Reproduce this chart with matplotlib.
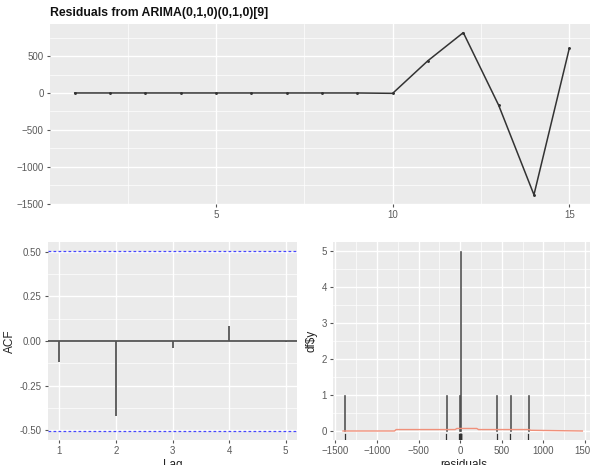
import matplotlib
matplotlib.use('Agg')
import matplotlib.pyplot as plt
from matplotlib.ticker import FixedLocator

plt.rcParams['font.family'] = ['Liberation Sans', 'DejaVu Sans']

# ---- data ----
time_index = list(range(1, 16))
residuals = [0, 0, 0, 0, 0, 0, 0, 0, 0, -5, 438, 818, -165, -1380, 603]

acf_lags = [1, 2, 3, 4, 5]
acf_values = [-0.116, -0.419, -0.04, 0.085, -0.004]
acf_bound = 0.506

hist_centers = [-1390, -165, -8, 0, 440, 605, 820]
hist_counts = [1, 1, 1, 5, 1, 1, 1]

normal_x = [-1410, -790, -770, -60, -40, 200, 220, 830, 850, 1470]
normal_y = [0.0, 0.0, 0.04, 0.04, 0.07, 0.07, 0.04, 0.04, 0.02, 0.0]

rug_values = [-12, -8, -4, 0, 2, 4, 6, 8, 10, -5, 438, 818, -165, -1380, 603]

title = "Residuals from ARIMA(0,1,0)(0,1,0)[9]"

W, H = 590, 465
fig = plt.figure(figsize=(W / 100, H / 100), dpi=100)
fig.patch.set_facecolor('white')


def add_ax(l, t, r, b):
    return fig.add_axes([l / W, 1 - b / H, (r - l) / W, (b - t) / H])


def gg_style(ax):
    ax.set_facecolor('#EBEBEB')
    for s in ax.spines.values():
        s.set_visible(False)
    ax.grid(True, which='major', color='white', linewidth=1.0)
    ax.grid(True, which='minor', color='white', linewidth=0.5)
    ax.set_axisbelow(True)
    ax.tick_params(which='major', length=2.5, width=0.8, color='#555555',
                   labelcolor='#5a5a5a', labelsize=7, pad=2)
    ax.tick_params(which='minor', length=0)


# ---- top panel ----
ax1 = add_ax(50, 24, 594, 204)
gg_style(ax1)
ax1.plot(time_index, residuals, color='#333333', linewidth=1.1,
         marker='o', markersize=1.1)
ax1.set_xlim(0.3, 15.7)
ax1.set_ylim(-1505, 935)
ax1.xaxis.set_major_locator(FixedLocator([5, 10, 15]))
ax1.xaxis.set_minor_locator(FixedLocator([2.5, 7.5, 12.5]))
ax1.yaxis.set_major_locator(FixedLocator([-1500, -1000, -500, 0, 500]))
ax1.yaxis.set_minor_locator(FixedLocator([-1250, -750, -250, 250, 750]))
fig.text(50 / W, 1 - 13 / H, title, fontsize=8.8, fontweight='bold',
         color='#111111', ha='left', va='center')

# ---- ACF panel ----
ax2 = add_ax(48, 242, 297, 440)
gg_style(ax2)
ax2.axhline(0, color='#555555', linewidth=1.3)
ax2.vlines(acf_lags, 0, acf_values, color='#555555', linewidth=1.3)
ax2.axhline(acf_bound, color='#4646ff', linewidth=0.9, linestyle=(0, (2.2, 1.8)))
ax2.axhline(-acf_bound, color='#4646ff', linewidth=0.9, linestyle=(0, (2.2, 1.8)))
ax2.set_xlim(0.8, 5.2)
ax2.set_ylim(-0.555, 0.555)
ax2.xaxis.set_major_locator(FixedLocator([1, 2, 3, 4, 5]))
ax2.xaxis.set_minor_locator(FixedLocator([]))
ax2.yaxis.set_major_locator(FixedLocator([-0.5, -0.25, 0, 0.25, 0.5]))
ax2.yaxis.set_minor_locator(FixedLocator([-0.375, -0.125, 0.125, 0.375]))
ax2.set_yticklabels(['-0.50', '-0.25', '0.00', '0.25', '0.50'])
ax2.set_xlabel('Lag', fontsize=8.5, color='#222222', labelpad=2)
ax2.set_ylabel('ACF', fontsize=8.5, color='#222222', labelpad=3)

# ---- histogram panel ----
ax3 = add_ax(333, 242, 594, 440)
gg_style(ax3)
ax3.bar(hist_centers, hist_counts, width=14, color='#555555',
        edgecolor='#444444', linewidth=0.4)
ax3.plot(normal_x, normal_y, color='#f0907a', linewidth=1.0)
trans = ax3.get_xaxis_transform()
for v in rug_values:
    ax3.plot([v, v], [0, 0.03], transform=trans, color='#333333', linewidth=0.9)
ax3.set_xlim(-1530, 1610)
ax3.set_ylim(-0.25, 5.25)
ax3.xaxis.set_major_locator(FixedLocator([-1500, -1000, -500, 0, 500, 1000, 1500]))
ax3.xaxis.set_minor_locator(FixedLocator([-1250, -750, -250, 250, 750, 1250]))
ax3.yaxis.set_major_locator(FixedLocator([0, 1, 2, 3, 4, 5]))
ax3.yaxis.set_minor_locator(FixedLocator([0.5, 1.5, 2.5, 3.5, 4.5]))
ax3.set_xlabel('residuals', fontsize=8.5, color='#222222', labelpad=2)
ax3.set_ylabel('df$y', fontsize=8.5, color='#222222', labelpad=3)

fig.savefig('out.png', dpi=100)
